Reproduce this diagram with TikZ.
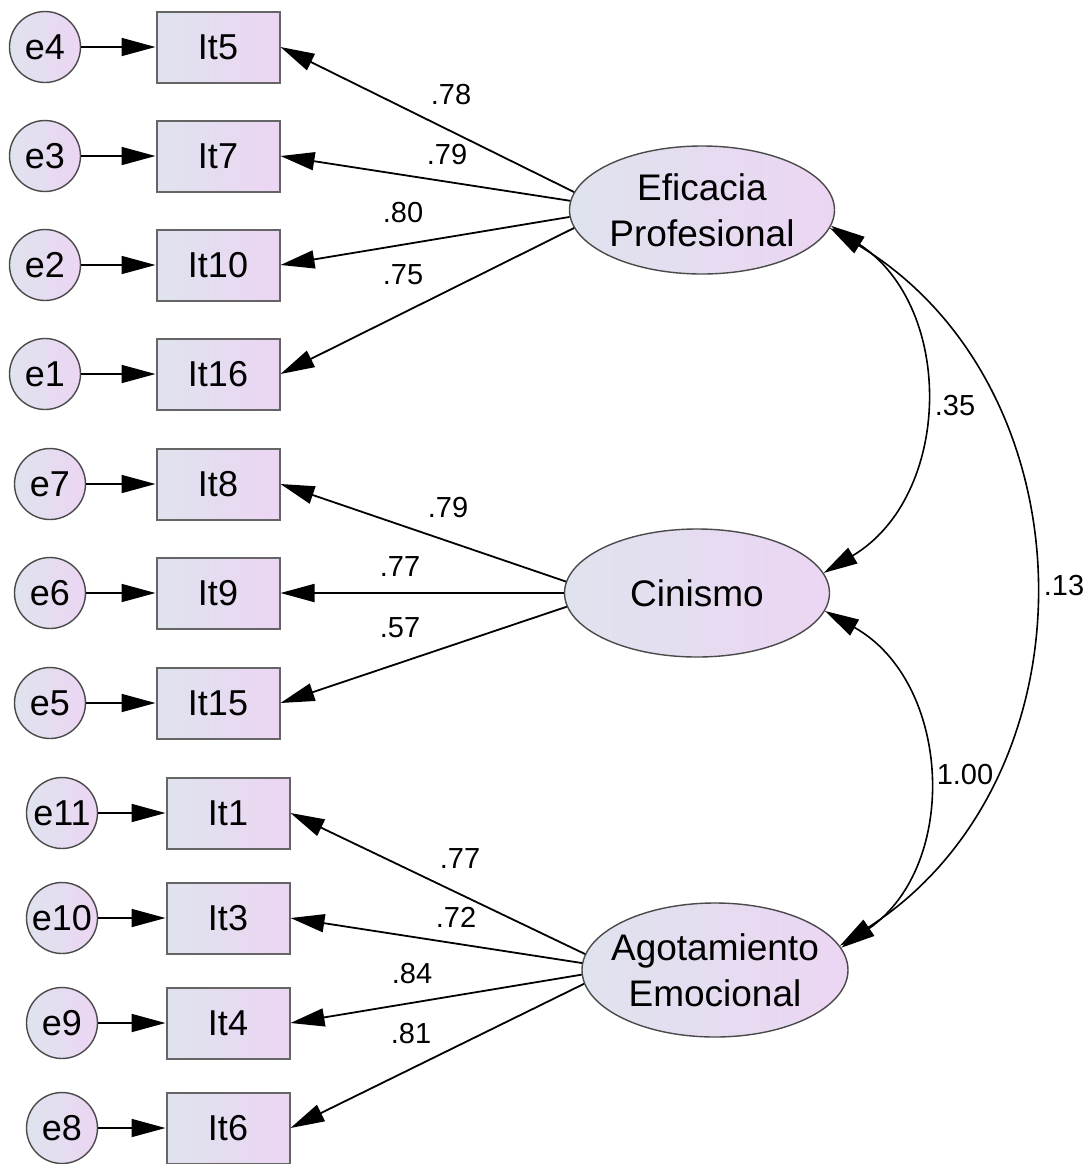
\documentclass[tikz,border=0pt]{standalone}
\usepackage{fontspec}
\setmainfont{Liberation Sans}
\usetikzlibrary{arrows.meta,shapes.geometric}
\definecolor{semleft}{HTML}{DFE3EE}
\definecolor{semright}{HTML}{ECD5F3}
\definecolor{semline}{HTML}{4A4A4A}
\tikzset{
  errc/.style={circle,draw=semline,line width=0.7pt,minimum size=35.5pt,inner sep=0pt,
    left color=semleft,right color=semright,font=\fontsize{18}{20}\selectfont},
  item/.style={rectangle,draw=semline!85,line width=1pt,minimum width=61.5pt,
    minimum height=35.5pt,inner sep=0pt,left color=semleft,right color=semright,
    font=\fontsize{18}{20}\selectfont},
  latent/.style={ellipse,draw=semline,line width=0.7pt,minimum width=132.5pt,
    minimum height=64pt,inner xsep=-8pt,inner ysep=0pt,align=center,
    left color=semleft,right color=semright,font=\fontsize{18.5}{23}\selectfont},
  load/.style={-{Triangle[length=17pt,width=9pt]},line width=0.9pt},
  cov/.style={{Triangle[length=17pt,width=9pt]}-{Triangle[length=17pt,width=9pt]},
    line width=0.8pt,bend left=58,looseness=1.1},
  lbl/.style={font=\fontsize{14.5}{16}\selectfont,inner sep=0pt}
}

\begin{document}
\begin{tikzpicture}[x=0.5pt,y=0.5pt]
\useasboundingbox (0,0) rectangle (1091,-1164);
% latent factors
\node[latent] (ef) at (702,-210) {Eficacia\\Profesional};
\node[latent] (cin) at (697,-593) {Cinismo};
\node[latent,minimum width=133pt,minimum height=67pt] (ag) at (715,-970) {Agotamiento\\Emocional};
% errors and items
\foreach \e/\it/\y in {4/5/47,3/7/156,2/10/265,1/16/374}{
  \node[errc] (e\e) at (45,-\y) {e\e};
  \node[item] (it\it) at (218,-\y) {It\it};
  \draw[load] (e\e) -- (it\it);
}
\foreach \e/\it/\y in {7/8/484,6/9/593,5/15/703}{
  \node[errc] (e\e) at (50,-\y) {e\e};
  \node[item] (it\it) at (218,-\y) {It\it};
  \draw[load] (e\e) -- (it\it);
}
\foreach \e/\it/\y in {11/1/813,10/3/918,9/4/1023,8/6/1128}{
  \node[errc] (e\e) at (62,-\y) {e\e};
  \node[item] (it\it) at (228,-\y) {It\it};
  \draw[load] (e\e) -- (it\it);
}
% loadings
\foreach \it/\a in {5/172,7/176,10/183,16/188}
  \draw[load] (ef.\a) -- (it\it.east);
\foreach \it/\a in {8/175,9/180,15/186}
  \draw[load] (cin.\a) -- (it\it.east);
\foreach \it/\a in {1/173,3/177,4/182,6/186}
  \draw[load] (ag.\a) -- (it\it.east);
% covariances
\draw[cov] (ef.-7) to (cin.9);
\draw[cov] (cin.-8) to (ag.10);
\draw[cov] (ef.-8) to[bend left=58,looseness=1.1] (ag.11);
% estimates
\foreach \v/\x/\y [count=\k] in {.78/451/95,.79/447/155,.80/403/213,.75/403/275,
  .79/448/508,.77/400/567,.57/400/628,.77/460/859,.72/456/917,.84/412/974,
  .81/411/1034,.35/955/406,.13/1064/586,1.00/965/775}
  \node[lbl] (w\k) at (\x,-\y) {\v};
\end{tikzpicture}
\end{document}
